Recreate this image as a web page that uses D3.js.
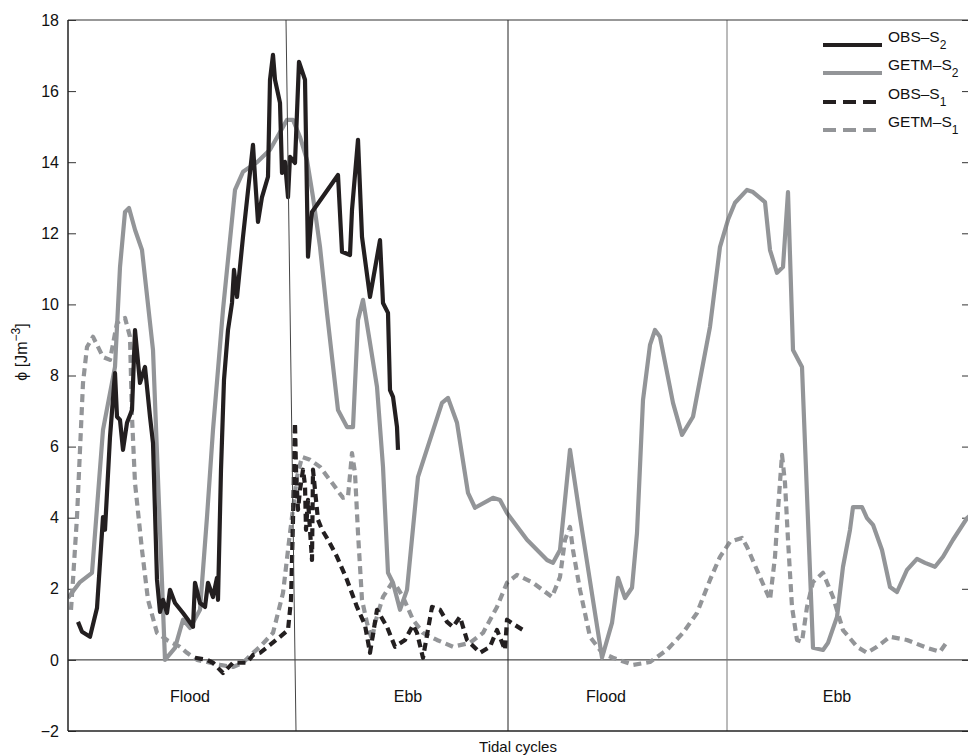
<!DOCTYPE html>
<html>
<head>
<meta charset="utf-8">
<script src="https://cdn.jsdelivr.net/npm/d3@7"></script>
<style>
  html, body { margin: 0; padding: 0; background: #fff; }
  svg { display: block; font-family: "Liberation Sans", Arial, Helvetica, sans-serif; }
</style>
</head>
<body>
<svg id="chart" width="968" height="755"></svg>
<script>
// ---------------- data (t: time along tidal cycles, arbitrary units; phi in J m^-3) ----------------
const yTicks = [-2, 0, 2, 4, 6, 8, 10, 12, 14, 16, 18];
const phaseLabels = ["Flood", "Ebb", "Flood", "Ebb"];
const phaseLabelT = [12.2, 34.0, 53.8, 76.9];
const phaseLines = [ // [t at top, t at bottom]
  [21.8, 22.8], [44.0, 44.0], [65.9, 65.9]
];
const seriesNames = ["OBS\u2013S", "GETM\u2013S", "OBS\u2013S", "GETM\u2013S"];
const seriesSubs = ["2", "2", "1", "1"];

const obsS2 = [[1.0,1.07],[1.4,0.79],[2.2,0.65],[2.9,1.46],[3.5,4.02],[3.7,3.66],[3.9,4.70],[4.2,6.27],[4.7,8.07],[4.9,6.84],[5.2,6.75],[5.5,5.91],[5.9,6.67],[6.4,7.03],[6.7,9.28],[7.2,7.79],[7.7,8.24],[8.2,6.84],[8.5,6.10],[8.9,2.25],[9.2,1.35],[9.5,1.69],[9.9,1.32],[10.2,1.97],[10.7,1.60],[11.5,1.32],[12.0,1.13],[12.5,0.93],[12.7,2.17],[13.2,1.60],[13.7,1.49],[14.0,2.17],[14.5,1.77],[14.9,2.31],[15.0,1.69],[15.3,5.35],[15.6,7.88],[16.0,9.28],[16.4,10.04],[16.6,10.97],[16.9,10.21],[17.5,11.90],[18.5,14.49],[18.7,13.59],[19.0,12.32],[19.4,13.02],[20.0,13.59],[20.2,16.32],[20.5,17.02],[20.7,16.32],[21.2,15.67],[21.4,13.70],[21.7,14.01],[22.0,13.02],[22.2,14.15],[22.7,13.98],[23.1,16.82],[23.7,16.32],[24.0,11.34],[24.4,12.60],[27.0,13.64],[27.4,11.48],[28.2,11.39],[28.4,12.66],[29.0,14.63],[29.4,11.90],[30.2,10.21],[31.2,11.81],[31.5,10.04],[32.0,9.76],[32.2,7.59],[32.5,7.40],[32.9,6.55],[33.0,5.91]];

const getmS2 = [[0,1.74],[1.2,2.19],[2.4,2.45],[3.5,6.47],[4.7,8.24],[5.2,11.05],[5.7,12.6],[6.1,12.71],[6.7,12.1],[7.4,11.53],[8.5,8.72],[9.7,0.0],[10.7,0.34],[11.5,1.13],[12.2,0.9],[13.2,1.41],[13.9,4.02],[14.5,6.47],[15.5,9.85],[16.7,13.22],[17.5,13.73],[18.9,14.0],[20.2,14.35],[21.9,15.19],[22.5,15.19],[23.2,14.71],[23.9,14.06],[24.5,13.02],[25.2,11.62],[25.9,9.76],[27.0,7.03],[27.9,6.55],[28.5,6.55],[29.0,9.56],[29.5,10.13],[30.2,8.92],[30.9,7.68],[31.5,5.43],[32.0,2.45],[32.5,2.17],[33.2,1.41],[33.9,1.97],[35.0,5.15],[36.2,6.19],[37.4,7.23],[38.0,7.37],[38.9,6.67],[40.0,4.70],[40.7,4.28],[42.5,4.56],[43.2,4.50],[43.9,4.13],[45.9,3.38],[47.9,2.81],[48.5,2.73],[49.2,3.09],[50.2,5.91],[51.2,4.02],[53.4,0.06],[54.4,1.04],[55.0,2.31],[55.7,1.74],[56.4,2.03],[56.9,3.57],[57.5,7.31],[58.2,8.86],[58.7,9.28],[59.2,9.09],[60.5,7.23],[61.4,6.33],[62.5,6.84],[64.2,9.37],[65.2,11.62],[66.0,12.38],[66.7,12.86],[67.9,13.22],[68.5,13.16],[69.7,12.88],[70.2,11.53],[70.9,10.89],[71.5,11.05],[72.0,13.16],[72.5,8.72],[73.4,8.24],[74.5,0.34],[75.5,0.28],[76.0,0.48],[76.9,1.21],[77.5,2.62],[78.2,3.66],[78.5,4.30],[79.4,4.30],[79.9,3.99],[80.5,3.80],[81.4,3.09],[82.2,2.05],[82.9,1.91],[83.9,2.53],[84.9,2.84],[85.7,2.73],[86.7,2.62],[87.5,2.90],[88.5,3.38],[89.9,3.99],[90.4,4.1]];

const obsS1 = [[12.7,0.06],[13.9,0.0],[14.5,-0.08],[15.5,-0.37],[16.5,-0.08],[17.9,-0.08],[18.5,0.14],[19.2,0.20],[20.2,0.42],[21.2,0.65],[22.0,0.84],[22.3,1.69],[22.5,3.94],[22.7,6.67],[22.8,5.35],[23.0,4.22],[23.2,4.78],[23.5,5.35],[23.7,4.92],[23.8,3.66],[24.0,4.50],[24.4,2.81],[24.5,5.35],[24.8,4.50],[25.0,3.94],[25.4,3.66],[26.0,3.38],[26.9,2.90],[27.9,2.25],[28.9,1.49],[29.7,0.98],[30.2,0.20],[30.9,1.41],[31.9,0.93],[32.7,0.37],[33.7,0.56],[34.5,0.98],[34.9,0.76],[35.5,0.06],[36.4,1.49],[37.2,1.41],[37.9,1.07],[38.5,0.93],[39.2,1.21],[39.9,0.56],[41.2,0.20],[42.2,0.37],[42.9,0.84],[43.7,0.28],[43.9,1.13],[44.7,0.98],[45.5,0.84]];

const getmS1 = [[0.3,1.41],[0.5,2.25],[0.9,4.02],[1.2,5.91],[1.5,7.79],[1.9,8.80],[2.5,9.09],[3.5,8.52],[4.2,8.44],[4.9,9.48],[5.7,9.62],[6.2,9.09],[6.4,6.84],[6.7,4.98],[7.4,3.09],[8.0,1.69],[8.9,0.76],[9.9,0.56],[11.2,0.37],[11.9,0.20],[12.9,0.0],[13.9,-0.06],[15.2,-0.14],[16.5,-0.20],[17.5,-0.08],[18.5,0.20],[19.2,0.37],[20.5,0.76],[21.5,1.88],[22.2,3.57],[22.9,5.15],[23.4,5.71],[24.2,5.63],[25.2,5.43],[26.4,4.98],[27.5,4.56],[28.0,4.59],[28.4,5.82],[28.7,5.26],[29.0,3.57],[29.4,1.69],[29.9,1.04],[30.4,0.56],[30.7,1.04],[31.5,1.77],[32.4,2.17],[32.9,2.05],[33.5,1.77],[34.5,1.13],[35.5,0.76],[36.9,0.56],[38.5,0.37],[40.2,0.48],[41.5,0.76],[42.9,1.49],[43.9,2.17],[44.9,2.39],[46.5,2.17],[48.4,1.77],[49.2,2.33],[49.7,3.38],[50.2,3.74],[50.5,3.09],[51.2,1.97],[52.2,0.65],[53.4,0.20],[54.5,0.06],[56.5,-0.14],[58.2,-0.06],[59.9,0.28],[61.5,0.76],[62.9,1.32],[64.2,2.25],[65.2,2.90],[66.2,3.32],[67.4,3.43],[67.9,3.18],[69.2,2.33],[70.2,1.69],[70.7,2.90],[71.0,4.22],[71.4,5.77],[71.7,4.98],[72.0,3.38],[72.4,1.49],[72.9,0.56],[73.4,0.51],[73.9,1.49],[74.5,2.19],[75.5,2.45],[76.5,1.77],[77.5,0.84],[78.9,0.37],[79.9,0.20],[80.9,0.37],[82.2,0.65],[83.9,0.56],[85.9,0.34],[87.2,0.23],[87.9,0.51]];

// ---------------- layout ----------------
const svg = d3.select("#chart");
const M = { left: 68, top: 20, right: 970, bottom: 731 };
const x = d3.scaleLinear().domain([0, 90.2]).range([M.left, M.right]);
const y = d3.scaleLinear().domain([-2, 18]).range([M.bottom, M.top]);

const BLACK = "#231f20", GRAY = "#939598", TEXT = "#111";

svg.append("defs").append("clipPath").attr("id", "clip")
  .append("rect").attr("x", M.left).attr("y", M.top)
  .attr("width", M.right - M.left).attr("height", M.bottom - M.top);

// axes (ticks inward, on both sides)
const axL = d3.axisLeft(y).tickValues(yTicks).tickSize(-8).tickPadding(9)
  .tickFormat(d => d < 0 ? "\u2212" + Math.abs(d) : d);
const gL = svg.append("g").attr("transform", `translate(${M.left},0)`).call(axL);
gL.select(".domain").remove();
gL.selectAll("line").attr("stroke", "#333");
gL.selectAll("text").attr("font-size", 16).attr("fill", TEXT)
  .attr("font-family", "Liberation Sans, Arial, sans-serif");

const axR = d3.axisRight(y).tickValues(yTicks).tickSize(-8).tickFormat("");
const gR = svg.append("g").attr("transform", `translate(${M.right},0)`).call(axR);
gR.select(".domain").remove();
gR.selectAll("line").attr("stroke", "#333");

// zero line
svg.append("line").attr("x1", M.left).attr("x2", M.right)
  .attr("y1", y(0)).attr("y2", y(0)).attr("stroke", "#222").attr("stroke-width", 1);

// series
const line = d3.line().x(d => x(d[0])).y(d => y(d[1]));
const plot = svg.append("g").attr("clip-path", "url(#clip)");
const series = [
  { data: getmS1, color: GRAY, dash: "8,5" },
  { data: obsS1, color: BLACK, dash: "8,5" },
  { data: getmS2, color: GRAY, dash: null },
  { data: obsS2, color: BLACK, dash: null }
];
series.forEach(s => {
  plot.append("path").datum(s.data)
    .attr("d", line)
    .attr("fill", "none")
    .attr("stroke", s.color)
    .attr("stroke-width", 4.2)
    .attr("stroke-linejoin", "round")
    .attr("stroke-dasharray", s.dash);
});

// phase separator lines
const sepColors = ["#444", "#222", "#777"];
phaseLines.forEach((p, i) => {
  svg.append("line")
    .attr("x1", x(p[0])).attr("y1", y(18))
    .attr("x2", x(p[1])).attr("y2", y(-2))
    .attr("stroke", sepColors[i]).attr("stroke-width", 1);
});

// frame (top, left, bottom)
svg.append("line").attr("x1", M.left).attr("x2", M.right).attr("y1", M.top).attr("y2", M.top)
  .attr("stroke", "#333").attr("stroke-width", 1.2);
svg.append("line").attr("x1", M.left).attr("x2", M.right).attr("y1", M.bottom).attr("y2", M.bottom)
  .attr("stroke", "#222").attr("stroke-width", 1.5);
svg.append("line").attr("x1", M.left).attr("x2", M.left).attr("y1", M.top).attr("y2", M.bottom)
  .attr("stroke", "#222").attr("stroke-width", 1.5);

// phase labels
phaseLabels.forEach((lab, i) => {
  svg.append("text").attr("x", x(phaseLabelT[i])).attr("y", y(-1)).attr("dy", "0.4em")
    .attr("text-anchor", "middle").attr("font-size", 16).attr("fill", TEXT).text(lab);
});

// axis titles
svg.append("text").attr("x", (M.left + M.right) / 2 - 1).attr("y", 752)
  .attr("text-anchor", "middle").attr("font-size", 15).attr("fill", TEXT).text("Tidal cycles");

const yl = svg.append("text").attr("transform", "translate(27,352) rotate(-90)")
  .attr("text-anchor", "middle").attr("font-size", 16).attr("fill", TEXT);
yl.append("tspan").text("\u03d5 [Jm");
yl.append("tspan").attr("dy", -7).attr("font-size", 12).text("\u22123");
yl.append("tspan").attr("dy", 7).text("]");

// legend
const legY = [45, 73, 102, 130];
const legColors = [BLACK, GRAY, BLACK, GRAY];
const legDash = [null, null, "13,7", "13,7"];
seriesNames.forEach((name, i) => {
  svg.append("line").attr("x1", 823).attr("x2", 882).attr("y1", legY[i]).attr("y2", legY[i])
    .attr("stroke", legColors[i]).attr("stroke-width", 4.2).attr("stroke-dasharray", legDash[i]);
  const t = svg.append("text").attr("x", 888).attr("y", legY[i] - 3)
    .attr("font-size", 15.5).attr("fill", TEXT);
  t.append("tspan").text(name);
  t.append("tspan").attr("dy", 7).attr("font-size", 12).text(seriesSubs[i]);
});
</script>
</body>
</html>
